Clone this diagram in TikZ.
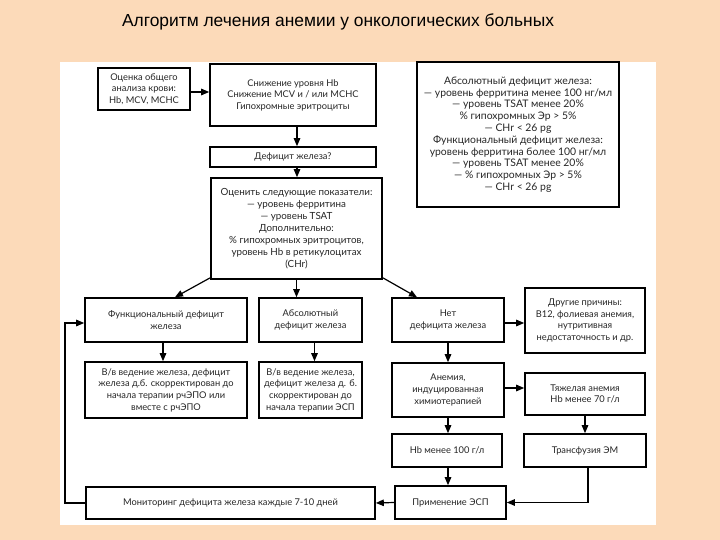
\documentclass[tikz,border=0pt]{standalone}
\usepackage{fontspec}
\setmainfont{Lato}
\newfontfamily\titlefont{Liberation Sans}
\usetikzlibrary{arrows.meta}
\definecolor{peach}{RGB}{252,218,185}
\tikzset{
  box/.style={draw=black, line width=1.6pt, fill=white, align=center, inner sep=1pt,
    font=\fontsize{9.3}{11.6}\selectfont, text=black!85},
  arr/.style={line width=1.2pt, -{Triangle[length=8pt,width=6.5pt]}},
  ln/.style={line width=1.2pt}
}
\begin{document}
\begin{tikzpicture}[x=1pt,y=-1pt]
\fill[peach] (0,0) rectangle (720,540);
\useasboundingbox (0,0) rectangle (720,540);
\fill[white] (60,62) rectangle (656,525);
\node[font=\titlefont\fontsize{17.4}{19}\selectfont, anchor=center] (title) at (338,22) {Алгоритм лечения анемии у онкологических больных};

\node[box, minimum width=92, minimum height=42] (b1) at (144,89) {Оценка общего\\анализа крови:\\Hb, MCV, MCHC};
\node[box, minimum width=166, minimum height=62] (b2) at (293,95) {Снижение уровня Hb\\Снижение MCV и / или MCHC\\Гипохромные эритроциты};
\node[box, minimum width=166, minimum height=20] (b3) at (293,157) {Дефицит железа?};
\node[box, minimum width=202, minimum height=145, font=\fontsize{10.4}{11.8}\selectfont] (info) at (518,134.5) {Абсолютный дефицит железа:\\— уровень ферритина менее 100 нг/мл\\— уровень TSAT менее 20\%\\\% гипохромных Эр > 5\%\\— CHr < 26 pg\\Функциональный дефицит железа:\\уровень ферритина более 100 нг/мл\\— уровень TSAT менее 20\%\\— \% гипохромных Эр > 5\%\\— CHr < 26 pg};
\node[box, minimum width=171, minimum height=101, font=\fontsize{9.8}{12}\selectfont] (b4) at (296.5,228.5) {Оценить следующие показатели:\\— уровень ферритина\\— уровень TSAT\\Дополнительно:\\\% гипохромных эритроцитов,\\уровень Hb в ретикулоцитах\\(CHr)};

\node[box, minimum width=162, minimum height=44] (func) at (166,320) {Функциональный дефицит\\железа};
\node[box, minimum width=103, minimum height=44] (abs) at (310.5,320) {Абсолютный\\дефицит железа};
\node[box, minimum width=112, minimum height=44] (net) at (448,320) {Нет\\дефицита железа};
\node[box, minimum width=120, minimum height=65] (other) at (585,320.5) {Другие причины:\\B12, фолиевая анемия,\\нутритивная\\недостаточность и др.};

\node[box, minimum width=162, minimum height=56] (ivfunc) at (166,390) {В/в ведение железа, дефицит\\железа д.б. скорректирован до\\начала терапии рчЭПО или\\вместе с рчЭПО};
\node[box, minimum width=103, minimum height=56] (ivabs) at (310.5,390) {В/в ведение железа,\\дефицит железа д. б.\\скорректирован до\\начала терапии ЭСП};
\node[box, minimum width=112, minimum height=54] (chemo) at (448,390) {Анемия,\\индуцированная\\химиотерапией};
\node[box, minimum width=120, minimum height=42] (severe) at (585,394) {Тяжелая анемия\\Hb менее 70 г/л};

\node[box, minimum width=110, minimum height=33] (hb100) at (447,450.5) {Hb менее 100 г/л};
\node[box, minimum width=122, minimum height=33] (transf) at (585,450.5) {Трансфузия ЭМ};
\node[box, minimum width=111, minimum height=33] (esp) at (450.5,502.5) {Применение ЭСП};
\node[box, minimum width=289, minimum height=32] (mon) at (230.5,503) {Мониторинг дефицита железа каждые 7-10 дней};

\coordinate (fb) at (65,503);

\draw[arr] ([yshift=-3pt]b1.east) -- ([yshift=-3pt]b1.east -| b2.west);
\draw[arr] ([xshift=4pt]b2.south) -- ([xshift=4pt]b3.north);
\draw[arr] ([xshift=4pt]b3.south) -- ([xshift=4pt]b3.south |- b4.north);
\draw[arr] ([yshift=2pt]b4.south west) -- ([xshift=9pt]func.north);
\draw[arr] (b4.south) -- (b4.south |- abs.north);
\draw[arr] ([yshift=2pt]b4.south east) -- ([xshift=-31pt]net.north);
\draw[arr] ([xshift=-3pt]func.south) -- ([xshift=-3pt]ivfunc.north);
\draw[arr] ([xshift=4pt]abs.south) -- ([xshift=4pt]ivabs.north);
\draw[arr] ([yshift=-3pt]net.east) -- ([yshift=-3pt]net.east -| other.west);
\draw[arr] (net.south) -- (chemo.north);
\draw[arr] ([yshift=2pt]chemo.east) -- ([yshift=2pt]chemo.east -| severe.west);
\draw[arr] (chemo.south) -- (chemo.south |- hb100.north);
\draw[arr] (hb100.south -| chemo.south) -- (chemo.south |- esp.north);
\draw[arr] (severe.south) -- (transf.north);
\draw[arr] ([xshift=3pt]transf.south) |- (esp.east);
\draw[arr] (esp.west) -- (mon.east);
\draw[arr] (mon.west) -- (fb) |- ([yshift=-3pt]func.west);
\end{tikzpicture}
\end{document}
